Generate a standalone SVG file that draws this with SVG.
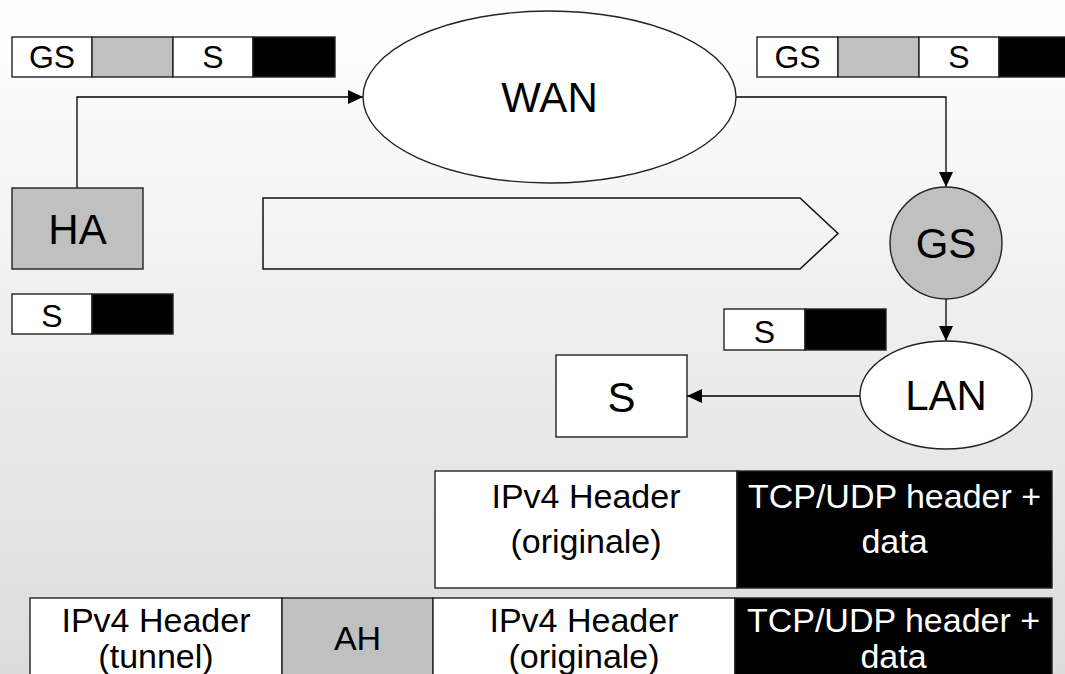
<svg xmlns="http://www.w3.org/2000/svg" width="1065" height="674" viewBox="0 0 1065 674">
  <defs>
    <linearGradient id="bg" x1="0" y1="0" x2="0" y2="1">
      <stop offset="0" stop-color="#ffffff"/>
      <stop offset="1" stop-color="#dcdcdc"/>
    </linearGradient>
    <marker id="arr" markerUnits="userSpaceOnUse" markerWidth="16" markerHeight="16" refX="15" refY="7" orient="auto">
      <path d="M0,0 L15,7 L0,14 z" fill="#000"/>
    </marker>
  </defs>
  <style>
    text { font-family: "Liberation Sans", Arial, sans-serif; text-anchor: middle; fill: #000; }
    .w { fill: #fff; stroke: #222; stroke-width: 1.4; }
    .g { fill: #c0c0c0; stroke: #222; stroke-width: 1.4; }
    .b { fill: #000; stroke: #222; stroke-width: 1.4; }
    .pk { font-size: 32px; }
    .nd { font-size: 42px; }
    .hd { font-size: 34px; }
    .wt { fill: #fff; }
    .cn { fill: none; stroke: #000; stroke-width: 1.3; marker-end: url(#arr); }
  </style>
  <rect x="0" y="0" width="1065" height="674" fill="url(#bg)"/>

  <g id="packet-top-left">
    <rect class="w" x="12" y="37" width="80" height="40"/>
    <rect class="g" x="92" y="37" width="81" height="40"/>
    <rect class="w" x="173" y="37" width="80" height="40"/>
    <rect class="b" x="253" y="37" width="82" height="40"/>
    <text class="pk" x="52" y="68">GS</text>
    <text class="pk" x="213" y="68">S</text>
  </g>

  <g id="packet-top-right">
    <rect class="w" x="757" y="37" width="81" height="40"/>
    <rect class="g" x="838" y="37" width="81" height="40"/>
    <rect class="w" x="919" y="37" width="80" height="40"/>
    <rect class="b" x="999" y="37" width="81" height="40"/>
    <text class="pk" x="797.5" y="68">GS</text>
    <text class="pk" x="959" y="68">S</text>
  </g>

  <g id="connectors">
    <path class="cn" d="M77,188 V97 H363"/>
    <path class="cn" d="M736,97 H946 V187"/>
    <path class="cn" d="M946,299 V341"/>
    <path class="cn" d="M860,396 H687"/>
  </g>

  <g id="wan">
    <ellipse class="w" cx="549.5" cy="97" rx="186.5" ry="86"/>
    <text class="nd" x="549.5" y="112">WAN</text>
  </g>

  <g id="ha">
    <rect class="g" x="12" y="188" width="131" height="81"/>
    <text class="nd" x="77.5" y="244">HA</text>
  </g>

  <g id="packet-ha">
    <rect class="w" x="12" y="294" width="80" height="40"/>
    <rect class="b" x="92" y="294" width="81" height="40"/>
    <text class="pk" x="52" y="327">S</text>
  </g>

  <g id="chevron">
    <polygon points="263,198 800,198 838,233.5 800,269 263,269" fill="none" stroke="#111" stroke-width="1.5"/>
  </g>

  <g id="gs">
    <circle class="g" cx="946" cy="243" r="56"/>
    <text class="nd" x="946" y="258">GS</text>
  </g>

  <g id="packet-lan">
    <rect class="w" x="724" y="309" width="81" height="41"/>
    <rect class="b" x="805" y="309" width="81" height="41"/>
    <text class="pk" x="764.5" y="343">S</text>
  </g>

  <g id="lan">
    <ellipse class="w" cx="946" cy="395" rx="86" ry="54"/>
    <text class="nd" x="946" y="410">LAN</text>
  </g>

  <g id="s">
    <rect class="w" x="556" y="355" width="131" height="82"/>
    <text class="nd" x="621.5" y="412">S</text>
  </g>

  <g id="packet-original">
    <rect class="w" x="435" y="471" width="302" height="117"/>
    <rect class="b" x="737" y="471" width="315" height="117"/>
    <text class="hd" x="586" y="508">IPv4 Header</text>
    <text class="hd" x="586" y="553">(originale)</text>
    <text class="hd wt" x="894.5" y="508">TCP/UDP header +</text>
    <text class="hd wt" x="894.5" y="553">data</text>
  </g>

  <g id="packet-tunnel">
    <rect class="w" x="30" y="598" width="252" height="90"/>
    <rect class="g" x="282" y="598" width="151" height="90"/>
    <rect class="w" x="433" y="598" width="302" height="90"/>
    <rect class="b" x="735" y="598" width="317" height="90"/>
    <text class="hd" x="156" y="632">IPv4 Header</text>
    <text class="hd" x="156" y="668">(tunnel)</text>
    <text class="hd" x="357.5" y="650">AH</text>
    <text class="hd" x="584" y="632">IPv4 Header</text>
    <text class="hd" x="584" y="668">(originale)</text>
    <text class="hd wt" x="893.5" y="632">TCP/UDP header +</text>
    <text class="hd wt" x="893.5" y="668">data</text>
  </g>
</svg>
